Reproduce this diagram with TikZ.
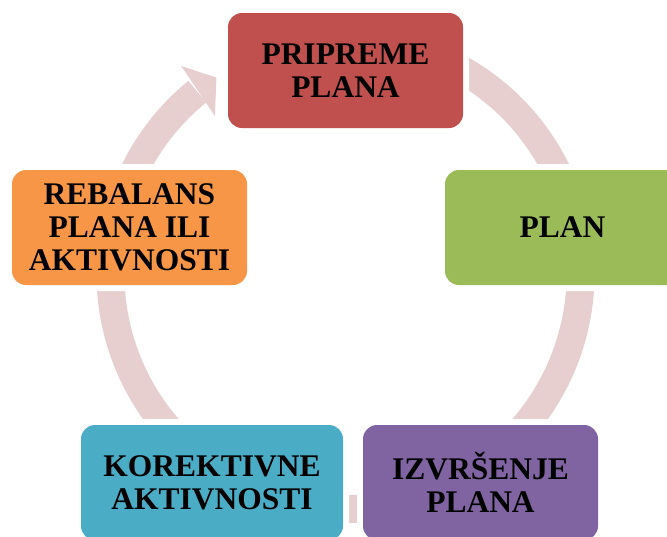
\documentclass[tikz,border=0pt]{standalone}
\usepackage{fontspec}
\setmainfont{Liberation Serif}
\definecolor{cred}{HTML}{C0504D}
\definecolor{cgreen}{HTML}{9BBB59}
\definecolor{cpurple}{HTML}{8064A2}
\definecolor{ccyan}{HTML}{4BACC6}
\definecolor{corange}{HTML}{F79646}
\definecolor{cring}{RGB}{231,207,208}
\begin{document}
\begin{tikzpicture}[x=1pt,y=-1pt,
  box/.style={rounded corners=14pt, fill=#1, text=black,
    minimum height=115pt, minimum width=235pt, inner sep=0pt, align=center,
    font=\fontsize{31.5}{33}\selectfont\bfseries,
    preaction={draw=white, line width=12pt}},
  ring/.style={draw=cring, line width=28pt, line cap=butt},
  ringhead/.style={fill=cring}]
\useasboundingbox (0,0) rectangle (667,536);
\clip (0,0) rectangle (667,536);
\coordinate (o) at (345.5,274);
% the circular arrow
\draw[ring] ([shift={(-110:235)}]o) arc[start angle=-110, end angle=230.9, radius=235];
\coordinate (hb1) at ([shift={(231.7:265)}]o);
\coordinate (ht) at ([shift={(236.7:235)}]o);
\coordinate (hb2) at ([shift={(230.4:205)}]o);
\fill[ringhead] (hb1) -- (ht) -- (hb2) -- cycle;
% nodes
\node[box=cred] (prep) at (345.5,70.5) {PRIPREME\\PLANA};
\node[box=cgreen] (plan) at (562.5,227.5) {PLAN};
\node[box=cpurple] (izv) at (480.5,482.5) {IZVRŠENJE\\PLANA};
\node[box=ccyan, minimum width=262pt] (kor) at (212,482.5) {KOREKTIVNE\\AKTIVNOSTI};
\node[box=corange] (reb) at (129.5,227.5) {REBALANS\\PLANA ILI\\AKTIVNOSTI};
\end{tikzpicture}
\end{document}
